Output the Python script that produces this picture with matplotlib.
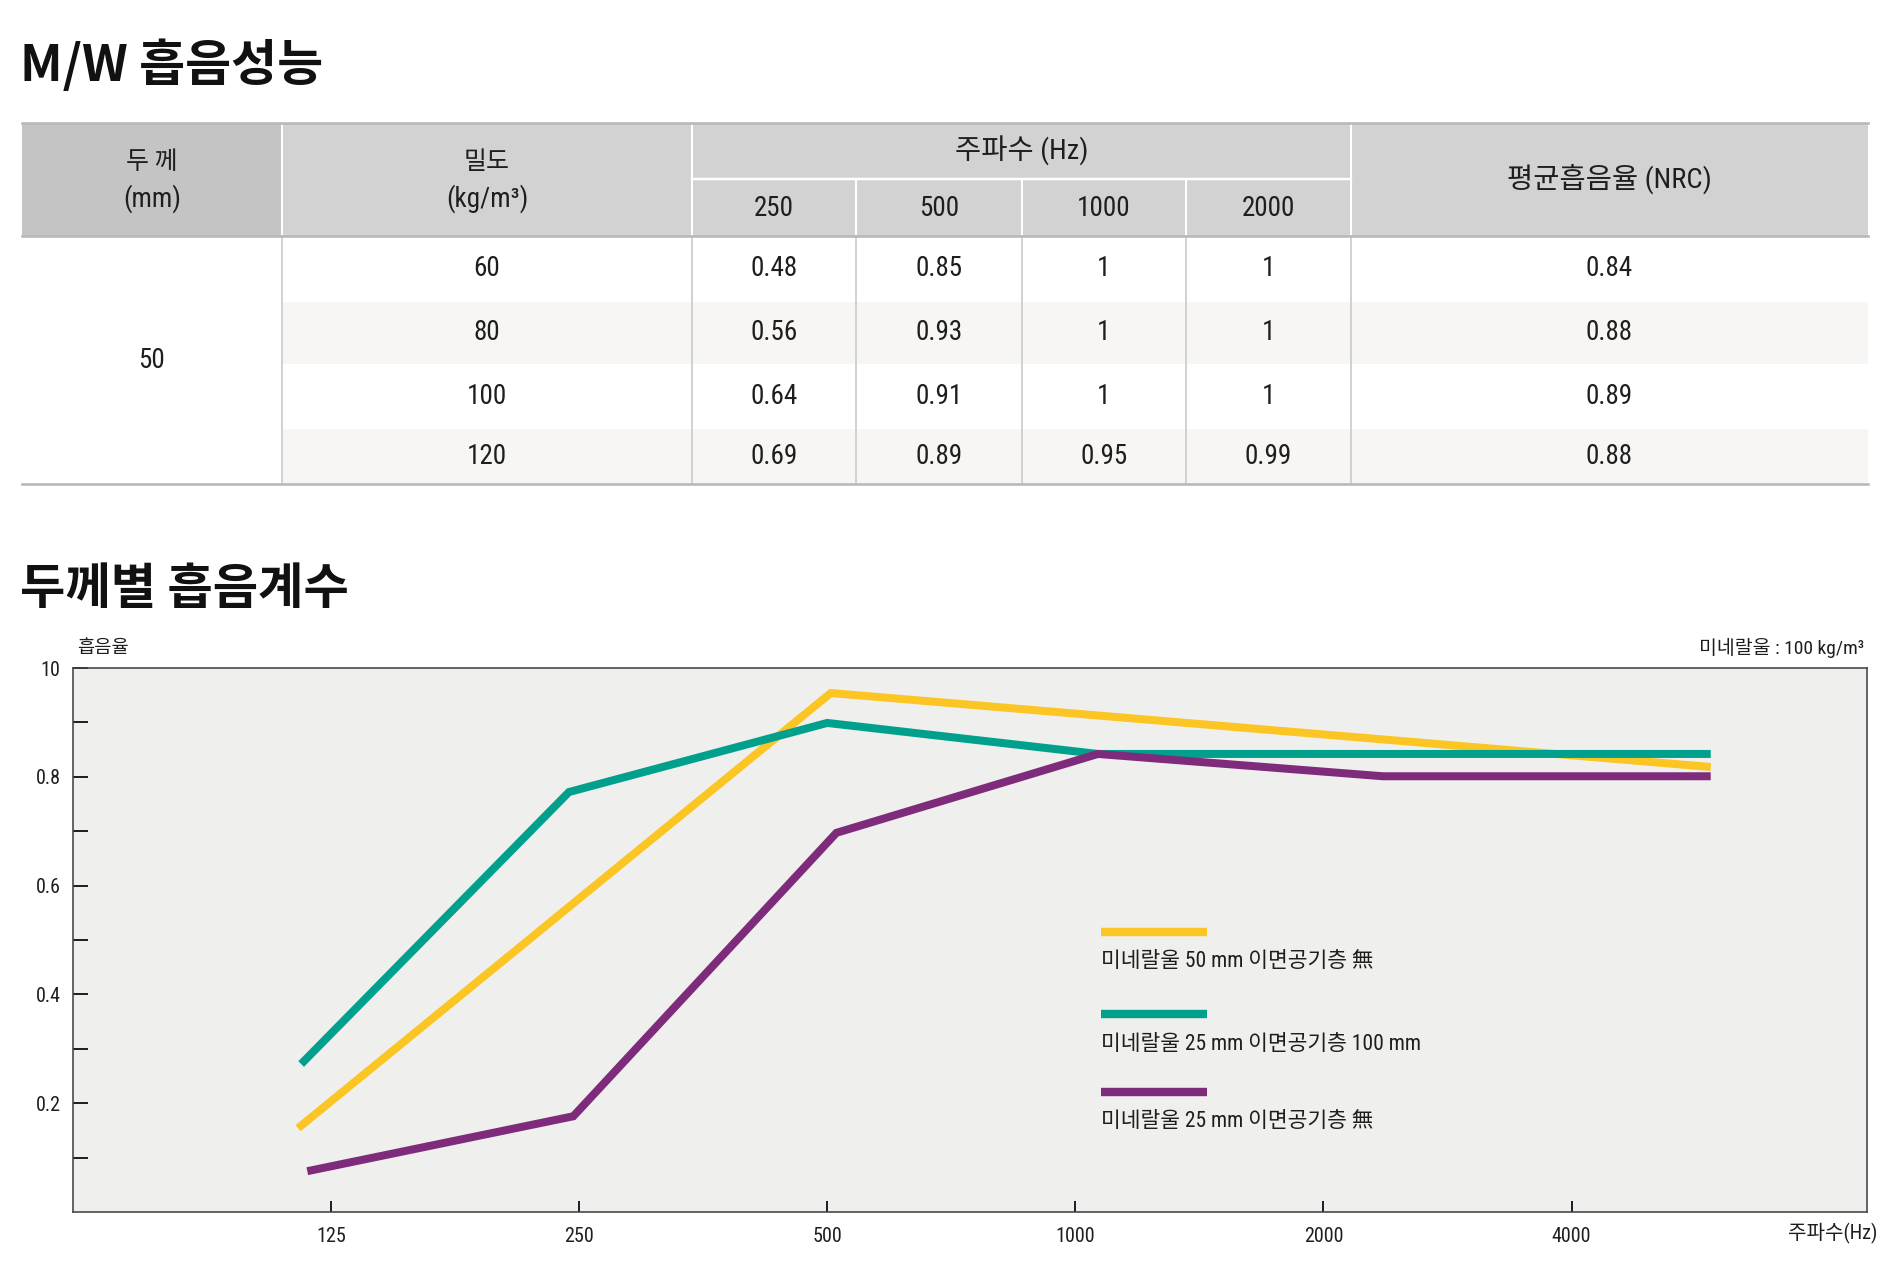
import matplotlib
matplotlib.use("Agg")
import matplotlib.pyplot as plt
from matplotlib.patches import Rectangle
from matplotlib.lines import Line2D

KR = 'Noto Sans CJK KR'
plt.rcParams['font.family'] = ['Roboto Condensed', KR, 'DejaVu Sans']

# ---- table data ----
thickness = '50'
density = ['60', '80', '100', '120']
freq_cols = ['250', '500', '1000', '2000']
absorb = [['0.48', '0.85', '1', '1'],
          ['0.56', '0.93', '1', '1'],
          ['0.64', '0.91', '1', '1'],
          ['0.69', '0.89', '0.95', '0.99']]
nrc = ['0.84', '0.88', '0.89', '0.88']

# ---- chart data ----
xtick_freqs = [125, 250, 500, 1000, 2000, 4000]
ytick_vals = [0.2, 0.4, 0.6, 0.8, 1.0]
ytick_labels = ['0.2', '0.4', '0.6', '0.8', '10']
yminor_vals = [0.1, 0.3, 0.5, 0.7, 0.9]

yellow_x = [114, 505, 5900]
yellow_y = [0.154, 0.954, 0.818]
teal_x = [115, 243, 500, 1065, 5900]
teal_y = [0.272, 0.772, 0.899, 0.842, 0.842]
purple_x = [117, 246, 513, 1065, 2360, 5900]
purple_y = [0.075, 0.176, 0.697, 0.842, 0.801, 0.801]
series_labels = ['미네랄울 50 mm 이면공기층 無',
                 '미네랄울 25 mm 이면공기층 100 mm',
                 '미네랄울 25 mm 이면공기층 無']
colors = ['#fbc624', '#00a08c', '#7f2b7b']

W, H = 1896, 1284
px = 0.72  # pixel -> point at dpi 100
ink = '#1e1e1e'

fig = plt.figure(figsize=(W / 100, H / 100), dpi=100)
bg = fig.add_axes([0, 0, 1, 1])
bg.set_xlim(0, W)
bg.set_ylim(H, 0)
bg.axis('off')

# titles
bg.text(20, 66, 'M/W 흡음성능', family=KR, weight=900, fontsize=36, va='center', ha='left', color='#111')
bg.text(20, 590, '두께별 흡음계수', family=KR, weight=900, fontsize=35.5, va='center', ha='left', color='#111')

# ---- table ----
col_x = [22, 282, 692, 856, 1022, 1186, 1351, 1868]
top, mid, hdr_bot = 123, 179, 236
row_y = [236, 302, 364, 429, 484]

bg.add_patch(Rectangle((col_x[0], top), col_x[1] - col_x[0], hdr_bot - top, fc='#c4c4c4', ec='none'))
bg.add_patch(Rectangle((col_x[1], top), col_x[-1] - col_x[1], hdr_bot - top, fc='#d2d2d2', ec='none'))
for i in [1, 3]:
    bg.add_patch(Rectangle((col_x[1], row_y[i]), col_x[-1] - col_x[1], row_y[i + 1] - row_y[i],
                           fc='#f7f6f4', ec='none'))

# header white separators
for c in [1, 2, 6]:
    bg.plot([col_x[c], col_x[c]], [top, hdr_bot], color='white', lw=2 * px)
for c in [3, 4, 5]:
    bg.plot([col_x[c], col_x[c]], [mid, hdr_bot], color='white', lw=2 * px)
bg.plot([col_x[2], col_x[6]], [mid, mid], color='white', lw=2.5 * px)

# body grid
for c in range(1, 7):
    bg.plot([col_x[c], col_x[c]], [hdr_bot, row_y[-1]], color='#c8c8c8', lw=1.6 * px)
for yy in [top, hdr_bot, row_y[-1]]:
    bg.plot([col_x[0], col_x[-1]], [yy, yy], color='#b8b8b8', lw=2.6 * px)

num_fs = 19.5
kr_fs = 18
mix_fs = 20.5

def cx(c):
    return (col_x[c] + col_x[c + 1]) / 2

bg.text(cx(0), 162, '두 께', family=KR, fontsize=kr_fs, ha='center', va='center', color=ink)
bg.text(cx(0), 199, '(mm)', fontsize=num_fs, ha='center', va='center', color=ink)
bg.text(cx(1), 162, '밀도', family=KR, fontsize=kr_fs, ha='center', va='center', color=ink)
bg.text(cx(1), 199, '(kg/m³)', fontsize=num_fs, ha='center', va='center', color=ink)
bg.text((col_x[2] + col_x[6]) / 2, 151, '주파수 (Hz)', fontsize=mix_fs, ha='center', va='center', color=ink)
bg.text(cx(6), 180, '평균흡음율 (NRC)', fontsize=mix_fs, ha='center', va='center', color=ink)
for j, f in enumerate(freq_cols):
    bg.text(cx(2 + j), 208, f, fontsize=num_fs, ha='center', va='center', color=ink)

bg.text(cx(0), (hdr_bot + row_y[-1]) / 2, thickness, fontsize=num_fs, ha='center', va='center', color=ink)
for i in range(len(density)):
    yc = (row_y[i] + row_y[i + 1]) / 2
    bg.text(cx(1), yc, density[i], fontsize=num_fs, ha='center', va='center', color=ink)
    for j in range(4):
        bg.text(cx(2 + j), yc, absorb[i][j], fontsize=num_fs, ha='center', va='center', color=ink)
    bg.text(cx(6), yc, nrc[i], fontsize=num_fs, ha='center', va='center', color=ink)

# ---- chart ----
L, R, T, B = 73, 1867, 668, 1212
ax = fig.add_axes([L / W, 1 - B / H, (R - L) / W, (B - T) / H])
ax.set_facecolor('#efefed')
ax.set_xscale('log', base=2)
ax.set_xlim(60.8, 9130)
ax.set_ylim(0, 1.0)

ax.plot(yellow_x, yellow_y, color=colors[0], lw=8 * px, solid_capstyle='butt', solid_joinstyle='miter', zorder=3)
ax.plot(teal_x, teal_y, color=colors[1], lw=8 * px, solid_capstyle='butt', solid_joinstyle='miter', zorder=4)
ax.plot(purple_x, purple_y, color=colors[2], lw=8 * px, solid_capstyle='butt', solid_joinstyle='miter', zorder=5)

ax.set_xticks(xtick_freqs)
ax.set_xticklabels([str(f) for f in xtick_freqs])
ax.xaxis.set_minor_locator(matplotlib.ticker.NullLocator())
ax.set_yticks(ytick_vals)
ax.set_yticklabels(ytick_labels)
ax.set_yticks(yminor_vals, minor=True)
ax.tick_params(axis='x', which='major', direction='in', length=11 * px, width=2 * px, color='#222',
               labelsize=14.5, pad=11, labelcolor=ink)
ax.tick_params(axis='y', which='both', direction='in', length=15 * px, width=2 * px, color='#222',
               labelsize=14.5, pad=9, labelcolor=ink)
for s in ax.spines.values():
    s.set_color('#444')
    s.set_linewidth(1.6 * px)

# legend drawn by hand: bar above label
leg_bar_y = [0.5147, 0.364, 0.2206]
leg_txt_y = [0.4596, 0.307, 0.167]
for i in range(3):
    ax.add_line(Line2D([0.573, 0.632], [leg_bar_y[i]] * 2, transform=ax.transAxes,
                       color=colors[i], lw=8.4 * px, solid_capstyle='butt'))
    ax.text(0.573, leg_txt_y[i], series_labels[i], transform=ax.transAxes, fontsize=15.5,
            ha='left', va='center', color=ink)

bg.text(77, 648, '흡음율', family=KR, fontsize=13.5, ha='left', va='center', color=ink)
bg.text(1864, 648, '미네랄울 : 100 kg/m³', fontsize=14, ha='right', va='center', color=ink)
bg.text(1877, 1233, '주파수(Hz)', fontsize=14.5, ha='right', va='center', color=ink)

fig.savefig('out.png', dpi=100)
